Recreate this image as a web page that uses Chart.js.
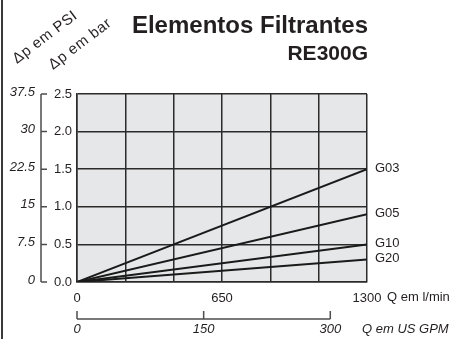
<!DOCTYPE html>
<html>
<head>
<meta charset="utf-8">
<script src="https://cdn.jsdelivr.net/npm/chart.js@4"></script>
<style>
  html, body { margin: 0; padding: 0; background: #fff; }
  canvas { display: block; }
</style>
</head>
<body>
<canvas id="filter-chart" width="459" height="339"></canvas>
<script>
// flow in l/min, pressure drop in bar
const flowLpm = [0, 1300];
const seriesNames = ['G03', 'G05', 'G10', 'G20'];
const dpG03 = [0, 1.5];
const dpG05 = [0, 0.9];
const dpG10 = [0, 0.5];
const dpG20 = [0, 0.3];
const seriesValues = [dpG03, dpG05, dpG10, dpG20];

const xGridLpm = [0, 216.67, 433.33, 650, 866.67, 1083.33, 1300];
const xTickLabels = ['0', '', '', '650', '', '', '1300'];
const yTicksBar = [0, 0.5, 1.0, 1.5, 2.0, 2.5];
const psiTicks = ['0', '7.5', '15', '22.5', '30', '37.5'];
const gpmTicks = [0, 150, 300];
const LPM_PER_GPM = 3.785;

const FONT = '"Liberation Sans", Arial, Helvetica, sans-serif';
const INK = '#231f20';

const datasets = seriesNames.map((name, i) => ({
    label: name,
    data: flowLpm.map((q, j) => ({ x: q, y: seriesValues[i][j] })),
    borderColor: '#1a1a1a',
    borderWidth: 2,
    pointRadius: 0,
    fill: false
}));

const extras = {
    id: 'extras',
    beforeDraw(chart) {
        const { ctx, chartArea: a } = chart;
        ctx.save();
        ctx.fillStyle = '#e6e7e8';
        ctx.fillRect(a.left, a.top, a.right - a.left, a.bottom - a.top);
        ctx.restore();
    },
    afterDraw(chart) {
        const { ctx, chartArea: a } = chart;
        const xs = chart.scales.x;
        const ys = chart.scales.y;
        ctx.save();

        // left frame line
        ctx.fillStyle = '#3a3a3a';
        ctx.fillRect(1, 0, 2, 339);

        // title
        ctx.fillStyle = INK;
        ctx.textAlign = 'right';
        ctx.textBaseline = 'alphabetic';
        ctx.font = 'bold 24px ' + FONT;
        ctx.fillText('Elementos Filtrantes', a.right + 1, 33);
        ctx.font = 'bold 21px ' + FONT;
        ctx.fillText('RE300G', a.right + 1, 60);

        // rotated unit labels
        ctx.font = '15px ' + FONT;
        ctx.textAlign = 'left';
        ctx.letterSpacing = '0.6px';
        ctx.save();
        ctx.translate(17, 64);
        ctx.rotate(-0.65);
        ctx.fillText('\u0394p em PSI', 0, 0);
        ctx.restore();
        ctx.save();
        ctx.translate(53, 70);
        ctx.rotate(-0.65);
        ctx.fillText('\u0394p em bar', 0, 0);
        ctx.restore();
        ctx.letterSpacing = '0px';

        // bracket axis for bar / psi
        const bx = 41;
        ctx.strokeStyle = '#4d4d4d';
        ctx.lineWidth = 1.5;
        ctx.beginPath();
        ctx.moveTo(bx, ys.getPixelForValue(0));
        ctx.lineTo(bx, ys.getPixelForValue(2.5));
        yTicksBar.forEach(v => {
            const py = ys.getPixelForValue(v);
            ctx.moveTo(bx, py);
            ctx.lineTo(bx + 6, py);
        });
        ctx.stroke();

        ctx.font = 'italic 13px ' + FONT;
        ctx.textAlign = 'right';
        ctx.textBaseline = 'middle';
        ctx.fillStyle = INK;
        psiTicks.forEach((t, i) => {
            ctx.fillText(t, 35, ys.getPixelForValue(yTicksBar[i]) - 2);
        });

        // series labels
        ctx.font = '13px ' + FONT;
        ctx.textAlign = 'left';
        seriesNames.forEach((name, i) => {
            const v = seriesValues[i][seriesValues[i].length - 1];
            ctx.fillText(name, a.right + 8, ys.getPixelForValue(v) - 1);
        });

        // l/min unit
        ctx.fillText('Q em l/min', 387, 297);

        // US GPM axis
        const gy = 319;
        ctx.beginPath();
        ctx.moveTo(xs.getPixelForValue(0), gy);
        ctx.lineTo(xs.getPixelForValue(gpmTicks[gpmTicks.length - 1] * LPM_PER_GPM), gy);
        gpmTicks.forEach(g => {
            const px = xs.getPixelForValue(g * LPM_PER_GPM);
            ctx.moveTo(px, gy);
            ctx.lineTo(px, gy - 8);
        });
        ctx.stroke();

        ctx.font = 'italic 13px ' + FONT;
        ctx.textAlign = 'center';
        gpmTicks.forEach(g => {
            ctx.fillText(String(g), xs.getPixelForValue(g * LPM_PER_GPM), 329);
        });
        ctx.textAlign = 'left';
        ctx.fillText('Q em US GPM', 362, 329);

        ctx.restore();
    }
};

const ctx = document.getElementById('filter-chart').getContext('2d');
// eslint-disable-next-line no-undef
new Chart(ctx, {
    type: 'line',
    data: { datasets },
    plugins: [extras],
    options: {
        responsive: false,
        animation: false,
        events: [],
        layout: { padding: { left: 0, top: 94, right: 92, bottom: 0 } },
        plugins: {
            legend: { display: false },
            tooltip: { enabled: false }
        },
        scales: {
            x: {
                type: 'linear',
                min: 0,
                max: 1300,
                afterBuildTicks: s => { s.ticks = xGridLpm.map(v => ({ value: v })); },
                afterFit: s => { s.height = 57; },
                grid: { color: '#2b2b2b', lineWidth: 1.5, drawTicks: false },
                border: { display: true, color: '#2b2b2b', width: 1.5 },
                ticks: {
                    padding: 9,
                    color: INK,
                    font: { family: FONT, size: 13 },
                    maxRotation: 0,
                    autoSkip: false,
                    callback: (v, i) => xTickLabels[i]
                }
            },
            y: {
                type: 'linear',
                min: 0,
                max: 2.5,
                afterBuildTicks: s => { s.ticks = yTicksBar.map(v => ({ value: v })); },
                afterFit: s => { s.width = 77; },
                grid: { color: '#2b2b2b', lineWidth: 1.5, drawTicks: false },
                border: { display: true, color: '#2b2b2b', width: 1.5 },
                ticks: {
                    padding: 5,
                    color: INK,
                    font: { family: FONT, size: 13 },
                    callback: v => v.toFixed(1)
                }
            }
        }
    }
});
</script>
</body>
</html>
